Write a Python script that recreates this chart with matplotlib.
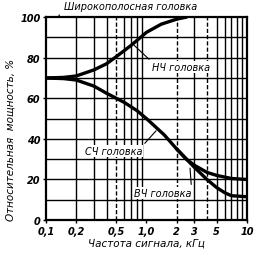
import numpy as np
import matplotlib
matplotlib.use("Agg")
import matplotlib.pyplot as plt

# frequency in kHz, relative power in %
freq_lf = [0.1, 0.15, 0.2, 0.3, 0.4, 0.5, 0.7, 1.0, 1.4, 2.0, 2.5]
power_lf = [70, 70.3, 71, 74, 77, 80.5, 86, 92.5, 96.5, 99, 100]

freq_mf = [0.1, 0.15, 0.2, 0.3, 0.4, 0.6, 0.8, 1.0, 1.5, 2.0, 2.5, 3, 4, 5, 7, 10]
power_mf = [70, 69.7, 69, 66, 62.5, 58, 54, 50, 42, 35, 30, 27, 23.5, 22, 20.5, 20]

freq_hf = [2.0, 2.5, 3, 4, 5, 6, 7, 10]
power_hf = [35, 30, 26, 20, 16, 13.5, 12, 11.5]

xticks = [0.1, 0.2, 0.5, 1.0, 2, 3, 5, 10]
xtick_labels = ["0,1", "0,2", "0,5", "1,0", "2", "3", "5", "10"]
yticks = [0, 20, 40, 60, 80, 100]

fig = plt.figure(figsize=(2.62, 2.55), dpi=100)
ax = fig.add_axes([0.1756, 0.133, 0.767, 0.796])
ax.set_xscale("log")
ax.set_xlim(0.1, 10)
ax.set_ylim(0, 100)

# grid: every 10 % and every log minor step, some of them dashed
for v in range(10, 100, 10):
    ax.axhline(v, color="black", lw=1.0, zorder=1)
grid_f = [k * 10.0 ** e for e in (-1, 0) for k in range(2, 10)]
for f in grid_f:
    dashed = any(abs(f - d) < 1e-9 for d in (0.5, 2, 4))
    ax.axvline(f, color="black", lw=1.0, ls=(0, (3, 1.5)) if dashed else "-", zorder=1)

kw = dict(color="black", lw=2.4, solid_capstyle="round", zorder=3)
ax.plot(freq_lf, power_lf, **kw)
ax.plot(freq_mf, power_mf, **kw)
ax.plot(freq_hf, power_hf, **kw)

for s in ax.spines.values():
    s.set_linewidth(1.6)

tf = dict(fontstyle="italic", fontweight="bold", fontsize=7)
ax.set_xticks(xticks)
ax.set_xticklabels(xtick_labels, **tf)
ax.xaxis.set_minor_locator(matplotlib.ticker.NullLocator())
ax.set_yticks(yticks)
ax.set_yticklabels([str(v) for v in yticks], **tf)
ax.tick_params(axis="both", length=2, width=1, pad=2)

lab = dict(fontstyle="italic", fontsize=7.5)
ax.set_xlabel("Частота сигнала, кГц", labelpad=1, **lab)
fig.text(0.04, 0.45, "Относительная  мощность, %", rotation=90,
         ha="center", va="center", **lab)

box = dict(facecolor="white", edgecolor="none", pad=0.5)
ann = dict(fontstyle="italic", fontsize=7, ha="center", va="center", zorder=5)
ax.annotate("НЧ головка", xy=(0.72, 87), xytext=(2.2, 75.5), bbox=box,
            arrowprops=dict(arrowstyle="-", lw=0.8, relpos=(0, 1)), **ann)
ax.annotate("СЧ головка", xy=(1.3, 45), xytext=(0.47, 34), bbox=box,
            arrowprops=dict(arrowstyle="-", lw=0.8, relpos=(1, 1)), **ann)
ax.annotate("ВЧ головка", xy=(2.7, 27), xytext=(1.45, 13.4), bbox=box,
            arrowprops=dict(arrowstyle="-", lw=0.8, relpos=(1, 1)), **ann)
ax.annotate("Широкополосная головка", xy=(0.132, 100), xytext=(0.69, 105.5),
            annotation_clip=False,
            arrowprops=dict(arrowstyle="-", lw=0.8, relpos=(0, 0.3)), **ann)

fig.savefig("out.png", dpi=100)
